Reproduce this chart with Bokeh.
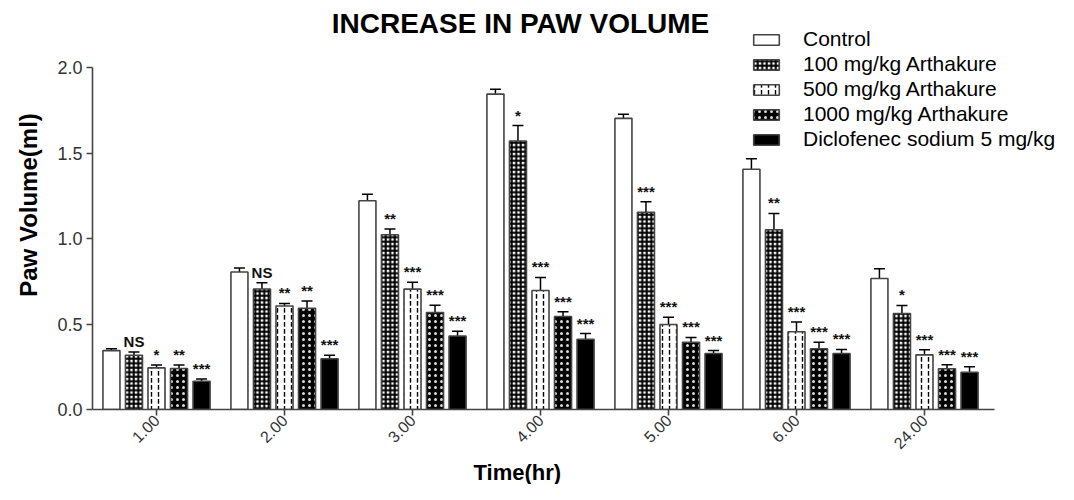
from math import pi
from bokeh.plotting import figure
from bokeh.models import (ColumnDataSource, Range1d, FixedTicker, Title, Label,
                          NumeralTickFormatter, Whisker, TeeHead, Legend, LegendItem)
from bokeh.transform import dodge
from bokeh.core.properties import value
from bokeh.embed import file_html
from bokeh.resources import INLINE

# ---------------- data ----------------
times = ["1.00", "2.00", "3.00", "4.00", "5.00", "6.00", "24.00"]

series_names = ["Control", "100 mg/kg Arthakure", "500 mg/kg Arthakure",
                "1000 mg/kg Arthakure", "Diclofenec sodium 5 mg/kg"]

control = [0.345, 0.805, 1.222, 1.847, 1.705, 1.407, 0.767]
control_err = [0.011, 0.024, 0.038, 0.028, 0.024, 0.061, 0.057]
control_sig = ["", "", "", "", "", "", ""]

ak100 = [0.318, 0.706, 1.023, 1.572, 1.155, 1.053, 0.562]
ak100_err = [0.019, 0.036, 0.034, 0.091, 0.061, 0.095, 0.047]
ak100_sig = ["NS", "NS", "**", "*", "***", "**", "*"]

ak500 = [0.244, 0.606, 0.705, 0.697, 0.498, 0.455, 0.320]
ak500_err = [0.017, 0.015, 0.040, 0.076, 0.042, 0.057, 0.030]
ak500_sig = ["*", "**", "***", "***", "***", "***", "***"]

ak1000 = [0.240, 0.593, 0.568, 0.545, 0.394, 0.356, 0.239]
ak1000_err = [0.020, 0.042, 0.042, 0.027, 0.028, 0.038, 0.023]
ak1000_sig = ["**", "**", "***", "***", "***", "***", "***"]

diclo = [0.165, 0.297, 0.430, 0.411, 0.328, 0.328, 0.218]
diclo_err = [0.013, 0.021, 0.028, 0.034, 0.017, 0.024, 0.032]
diclo_sig = ["***", "***", "***", "***", "***", "***", "***"]

y_ticks = [0.0, 0.5, 1.0, 1.5, 2.0]

# ---------------- figure ----------------
FONT = "Liberation Sans"
x_idx = list(range(len(times)))

p = figure(x_range=Range1d(-0.5, 7.047), y_range=Range1d(0, 2.395),
           width=1058, height=484, output_backend="svg", toolbar_location=None,
           min_border_left=92, min_border_right=0, min_border_top=0,
           min_border_bottom=60)
p.outline_line_color = None
p.xgrid.grid_line_color = None
p.ygrid.grid_line_color = None
p.background_fill_color = "white"

title = Label(text="INCREASE IN PAW VOLUME", x=428, y=386,
              x_units="screen", y_units="screen",
              text_font=FONT, text_font_size="28px", text_font_style="bold",
              text_align="center", text_baseline="middle", text_color="black")
p.add_layout(title)

styles = [
    dict(fill_color="white"),
    dict(fill_color="white", hatch_pattern="cross", hatch_color="black",
         hatch_scale=4.5, hatch_weight=2.0),
    dict(fill_color="white", hatch_pattern="vertical_dash", hatch_color="black",
         hatch_scale=7, hatch_weight=1.4),
    dict(fill_color="black", hatch_pattern="dot", hatch_color="white",
         hatch_scale=6, hatch_weight=0.8, hatch_alpha=0.85),
    dict(fill_color="black"),
]

values = [control, ak100, ak500, ak1000, diclo]
errors = [control_err, ak100_err, ak500_err, ak1000_err, diclo_err]
sigs = [control_sig, ak100_sig, ak500_sig, ak1000_sig, diclo_sig]
offsets = [-0.352, -0.176, 0.0, 0.176, 0.352]
BAR_W = 0.133

legend_items = []
for name, vals, errs, sg, off, st in zip(series_names, values, errors, sigs, offsets, styles):
    src = ColumnDataSource(dict(
        xi=x_idx, top=vals,
        upper=[v + e for v, e in zip(vals, errs)],
        sig=sg,
    ))
    r = p.vbar(x=dodge("xi", off), top="top", width=BAR_W, source=src,
               line_color="#444", line_width=1.6, **st)
    legend_items.append(LegendItem(label=name, renderers=[r]))
    w = Whisker(base=dodge("xi", off), lower="top", upper="upper",
                source=src, line_color="black", line_width=1.5,
                upper_head=TeeHead(size=11, line_color="black", line_width=1.5),
                lower_head=None)
    p.add_layout(w)
    p.text(x=dodge("xi", off), y="upper", text="sig", source=src,
           text_font=value(FONT), text_font_size="15px", text_font_style="bold",
           text_align="center", text_baseline="bottom", y_offset=-2,
           text_color="#111")

legend = Legend(items=legend_items, location=(658, 258))
legend.background_fill_alpha = 0
legend.border_line_color = None
legend.padding = 0
legend.margin = 0
legend.spacing = 1
legend.glyph_width = 32
legend.glyph_height = 13
legend.label_height = 21
legend.label_standoff = 21
legend.label_text_font = FONT
legend.label_text_font_size = "21px"
legend.label_text_color = "black"
p.add_layout(legend)

# axes
for ax in (p.xaxis[0], p.yaxis[0]):
    ax.axis_line_color = "#444"
    ax.axis_line_width = 1.6
    ax.major_tick_line_color = "#444"
    ax.major_tick_line_width = 1.6
    ax.major_tick_out = 6
    ax.major_tick_in = 0
    ax.minor_tick_line_color = None
    ax.major_label_text_font = FONT
    ax.major_label_text_color = "#333"
    ax.axis_label_text_font = FONT
    ax.axis_label_text_font_style = "bold"
    ax.axis_label_text_color = "black"

p.yaxis.bounds = (0, 2.0)
p.yaxis.ticker = FixedTicker(ticks=y_ticks)
p.yaxis.formatter = NumeralTickFormatter(format="0.0")
p.yaxis.major_label_text_font_size = "18px"
p.yaxis.axis_label = "Paw Volume(ml)"
p.yaxis.axis_label_text_font_size = "24px"
p.yaxis.major_label_standoff = 4
p.yaxis.axis_label_standoff = 12

p.xaxis.bounds = (-0.5, 6.55)
p.xaxis.ticker = FixedTicker(ticks=x_idx)
p.xaxis.major_label_overrides = {i: t for i, t in zip(x_idx, times)}
p.xaxis.major_label_text_font_size = "16px"
p.xaxis.major_label_orientation = pi / 4
p.xaxis.major_label_standoff = 2

xtitle = Title(text="Time(hr)", align="left", offset=381, standoff=0,
               text_font=FONT, text_font_size="22px", text_font_style="bold",
               text_color="black")
p.add_layout(xtitle, "below")

open("out.html", "w").write(file_html(p, INLINE))
